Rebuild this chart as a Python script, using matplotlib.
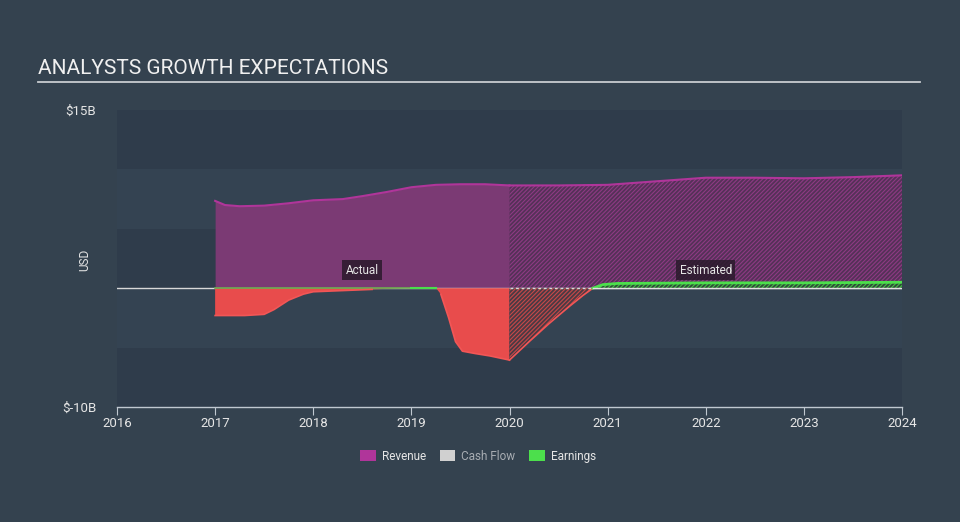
import matplotlib
matplotlib.use("Agg")
import matplotlib.pyplot as plt
from matplotlib.patches import Patch
from matplotlib.lines import Line2D
import numpy as np

# ---- data (billions USD) ----
rev_act_x = [2017.0, 2017.1, 2017.25, 2017.5, 2017.75, 2018.0, 2018.3, 2018.5, 2018.75, 2019.0, 2019.25, 2019.5, 2019.75, 2020.0]
rev_act_y = [7.35, 7.0, 6.9, 6.95, 7.15, 7.4, 7.5, 7.75, 8.1, 8.5, 8.7, 8.75, 8.75, 8.65]
rev_est_x = [2020.0, 2020.5, 2021.0, 2021.5, 2022.0, 2022.5, 2023.0, 2023.5, 2024.0]
rev_est_y = [8.65, 8.65, 8.7, 9.0, 9.3, 9.3, 9.25, 9.35, 9.5]

earn_act_x = [2017.0, 2017.3, 2017.5, 2017.6, 2017.75, 2017.9, 2018.0, 2018.3, 2018.6, 2019.0, 2019.25, 2019.3, 2019.38, 2019.45, 2019.52, 2019.65, 2019.8, 2020.0]
earn_act_y = [-2.3, -2.3, -2.2, -1.8, -1.0, -0.5, -0.3, -0.2, -0.1, 0.02, 0.02, -0.5, -2.5, -4.5, -5.3, -5.5, -5.7, -6.05]
earn_est_x = [2020.0, 2020.2, 2020.4, 2020.6, 2020.75, 2020.85, 2020.95, 2021.1, 2022.0, 2023.0, 2024.0]
earn_est_y = [-6.05, -4.5, -3.0, -1.6, -0.6, 0.0, 0.3, 0.4, 0.45, 0.45, 0.5]

years = [2016, 2017, 2018, 2019, 2020, 2021, 2022, 2023, 2024]
ytick_vals = [-10, 15]
ytick_labels = ["$-10B", "$15B"]
band_edges = [-10, -5, 0, 5, 10, 15]
legend_labels = ["Revenue", "Cash Flow", "Earnings"]

# ---- style ----
BG = "#34424f"
BAND_DARK = "#2f3c4b"
BAND_LIGHT = "#344352"
REV_FILL = "#7b3a74"
REV_LINE = "#b0359a"
RED_FILL = "#e84c4c"
RED_LINE = "#f25656"
GREEN = "#4cdf4c"
TXT = "#e6e6e6"

plt.rcParams["font.family"] = ["Roboto", "DejaVu Sans"]
plt.rcParams["hatch.linewidth"] = 0.8

fig = plt.figure(figsize=(9.6, 5.22), dpi=100, facecolor=BG)
ax = fig.add_axes([117/960, 1-407/522, (902-117)/960, (407-110)/522])
ax.set_facecolor(BG)
ax.set_xlim(2016, 2024)
ax.set_ylim(-10, 15)

# bands
for i in range(len(band_edges) - 1):
    c = BAND_DARK if i % 2 == 0 else BAND_LIGHT
    ax.axhspan(band_edges[i], band_edges[i+1], color=c, lw=0, zorder=0)

# revenue actual
ax.fill_between(rev_act_x, 0, rev_act_y, color=REV_FILL, lw=0, zorder=2)
ax.plot(rev_act_x, rev_act_y, color=REV_LINE, lw=1.5, zorder=3)
# revenue estimated (hatched)
ax.fill_between(rev_est_x, 0, rev_est_y, facecolor="#553158", lw=0, zorder=2)
ax.fill_between(rev_est_x, 0, rev_est_y, facecolor="none", edgecolor="#8e3a84", hatch="////////", lw=0, zorder=2)
ax.plot(rev_est_x, rev_est_y, color=REV_LINE, lw=1.5, zorder=3)

# zero line
ax.axhline(0, color="#d8d8d8", lw=1, zorder=3)

# earnings actual
ea_x = np.array(earn_act_x); ea_y = np.array(earn_act_y)
ax.fill_between(ea_x, 0, ea_y, where=ea_y <= 0, interpolate=True, color=RED_FILL, lw=0, zorder=4)
ax.plot(ea_x, np.ma.masked_where(ea_y > 0, ea_y), color=RED_LINE, lw=1.2, zorder=5)
ax.plot(ea_x, np.ma.masked_where(ea_y < 0, ea_y), color=GREEN, lw=1.5, zorder=5)
ax.plot([2017.0, 2019.25], [0, 0], color="#6aa84f", lw=1.2, zorder=4)

# earnings estimated (hatched)
ee_x = np.array(earn_est_x); ee_y = np.array(earn_est_y)
ax.fill_between(ee_x, 0, ee_y, where=ee_y <= 0, interpolate=True, facecolor="#4a3a44", lw=0, zorder=4)
ax.fill_between(ee_x, 0, ee_y, where=ee_y <= 0, interpolate=True, facecolor="none", edgecolor="#c84848", hatch="////////", lw=0, zorder=4)
ax.fill_between(ee_x, 0, ee_y, where=ee_y >= 0, interpolate=True, facecolor="#2f4a3a", lw=0, zorder=4)
ax.fill_between(ee_x, 0, ee_y, where=ee_y >= 0, interpolate=True, facecolor="none", edgecolor="#44c044", hatch="////////", lw=0, zorder=4)
ax.plot(ee_x, np.ma.masked_where(ee_y > 0, ee_y), color=RED_LINE, lw=1.2, zorder=5)
ax.plot(ee_x, np.ma.masked_where(ee_y < 0, ee_y), color=GREEN, lw=2, zorder=5)
ax.plot([2020.0, 2020.85], [0, 0], color="#d8d8d8", lw=1, ls=(0, (2, 2)), zorder=6)
ax.plot([2020.85, 2024], [0, 0], color="#e0e0e0", lw=1, zorder=6)

# labels
box = dict(boxstyle="square,pad=0.3", facecolor="#2a1a2c", edgecolor="none", alpha=0.85)
ax.text(2018.5, 1.5, "Actual", color=TXT, fontsize=8.5, ha="center", va="center", bbox=box, zorder=7)
ax.text(2022.0, 1.5, "Estimated", color=TXT, fontsize=8.5, ha="center", va="center", bbox=box, zorder=7)

# axes styling
for s in ["top", "right", "left"]:
    ax.spines[s].set_visible(False)
ax.spines["bottom"].set_color("#c0c8d0")
ax.spines["bottom"].set_linewidth(1)
ax.set_xticks(years)
ax.set_xticklabels([str(y) for y in years])
ax.tick_params(axis="x", colors="#c0c8d0", labelcolor=TXT, labelsize=9.5, length=6, pad=1)
ax.set_yticks(ytick_vals)
ax.set_yticklabels(ytick_labels)
ax.tick_params(axis="y", length=0, labelcolor=TXT, labelsize=9.5, pad=15)
ax.set_ylabel("USD", color=TXT, fontsize=8.5)
ax.yaxis.set_label_coords((91-117)/785, 0.495)

# title + underline
fig.text(38/960, 1-68/522, "ANALYSTS GROWTH EXPECTATIONS", color="#f0f0f0", fontsize=15, va="center", ha="left")
fig.add_artist(Line2D([38/960, 920/960], [1-82/522, 1-82/522], color="#c8ccd0", lw=1.3))

# legend
handles = [Patch(facecolor="#b0359a", edgecolor="none"),
           Patch(facecolor="#d0d0d0", edgecolor="none"),
           Patch(facecolor=GREEN, edgecolor="none")]
leg = fig.legend(handles, legend_labels, loc="center", bbox_to_anchor=(478/960, 1-456/522), ncol=3,
                 frameon=False, fontsize=8.5, handlelength=1.3, handleheight=1.0, columnspacing=1.2, handletextpad=0.5)
for t, c in zip(leg.get_texts(), [TXT, "#a8adb3", TXT]):
    t.set_color(c)

fig.savefig("out.png", dpi=100, facecolor=BG)
